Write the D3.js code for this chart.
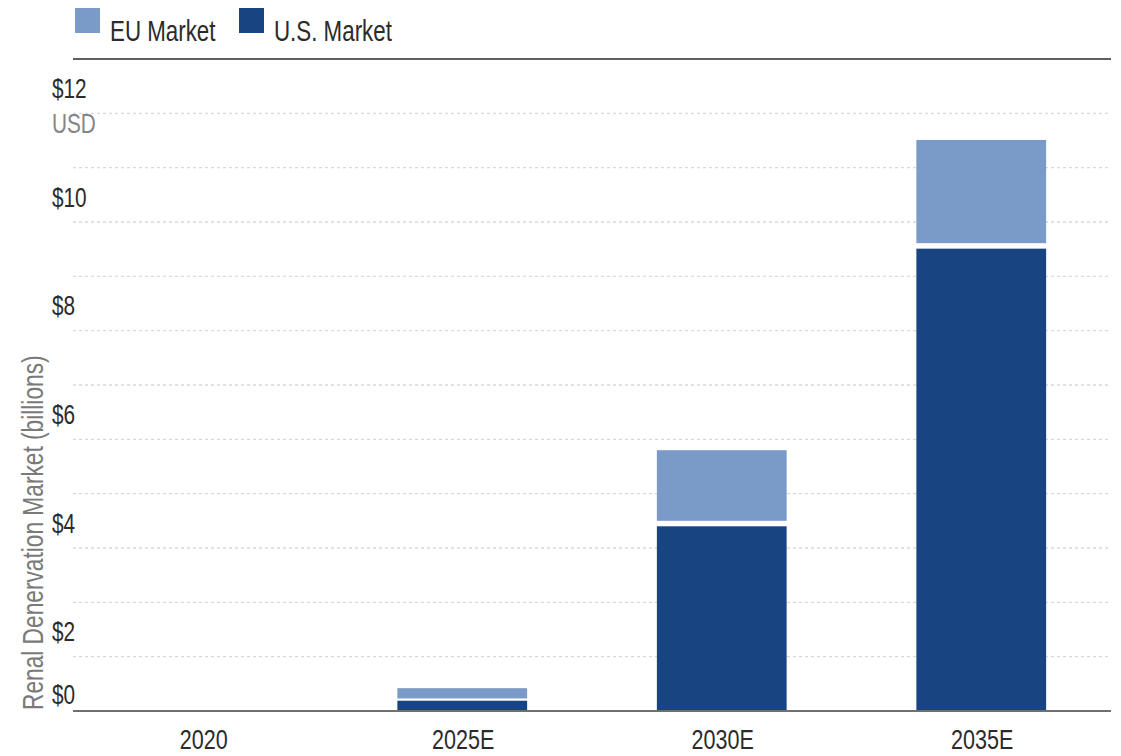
<!DOCTYPE html>
<html>
<head>
<meta charset="utf-8">
<script src="https://cdn.jsdelivr.net/npm/d3@7"></script>
<style>
  html, body { margin: 0; padding: 0; background: #fff; }
  svg { display: block; }
  text { font-family: "Liberation Sans", Arial, sans-serif; }
</style>
</head>
<body>
<svg id="chart" width="1121" height="756"></svg>
<script>
// Renal denervation market size, USD billions
const categories = ["2020", "2025E", "2030E", "2035E"];
const usMarket = [0, 0.21, 3.45, 8.56];
const euMarket = [0, 0.21, 1.35, 1.95];
const yTicks = [0, 2, 4, 6, 8, 10, 12];
const seriesNames = ["EU Market", "U.S. Market"];
const seriesColors = ["#7a9ac8", "#184482"];

const svg = d3.select("#chart");
const margin = { left: 73, right: 10, top: 59, bottom: 45 };
const W = 1121, H = 756;
const plotBottom = H - margin.bottom; // 711
const NARROW = 0.77; // horizontal squeeze for a condensed look

// place a condensed text at (px, py), optionally rotated
function narrowText(sel, px, py, rot) {
  return sel.attr("transform", d => {
    const X = typeof px === "function" ? px(d) : px;
    const Y = typeof py === "function" ? py(d) : py;
    return `translate(${X},${Y})` + (rot ? ` rotate(${rot})` : "") + ` scale(${NARROW},1)`;
  });
}

const x = d3.scaleBand()
  .domain(categories)
  .range([margin.left, W - margin.right])
  .paddingInner(0.5)
  .paddingOuter(0.25);

const y = d3.scaleLinear()
  .domain([0, 12])
  .range([plotBottom, margin.top]);

// dotted gridlines at every billion
const gridVals = d3.range(1, 12);
svg.append("g")
  .selectAll("line")
  .data(gridVals)
  .join("line")
  .attr("x1", margin.left)
  .attr("x2", W - margin.right)
  .attr("y1", d => y(d))
  .attr("y2", d => y(d))
  .attr("stroke", "#d9d9d9")
  .attr("stroke-width", 1.3)
  .attr("stroke-dasharray", "3,3");

// top rule under the legend
svg.append("line")
  .attr("x1", margin.left).attr("x2", W - margin.right)
  .attr("y1", y(12)).attr("y2", y(12))
  .attr("stroke", "#5f5f5f").attr("stroke-width", 2);

// stacked bars: U.S. at the bottom, EU on top, with a small white gap
const rows = categories.map((c, i) => ({ cat: c, us: usMarket[i], eu: euMarket[i] }));
const stack = d3.stack().keys(["us", "eu"])(rows);

const gapFor = (d) => {
  const hUs = y(0) - y(d.data.us);
  const hEu = y(0) - y(d.data.eu);
  return Math.min(5.5, 0.2 * Math.min(hUs, hEu));
};

const bars = svg.append("g");
stack.forEach((layer, li) => {
  bars.append("g")
    .attr("fill", li === 0 ? seriesColors[1] : seriesColors[0])
    .selectAll("rect")
    .data(layer.filter(d => d[1] - d[0] > 0))
    .join("rect")
    .attr("x", d => x(d.data.cat))
    .attr("width", x.bandwidth())
    .attr("y", d => {
      const g = gapFor(d);
      return li === 0 ? y(d[1]) + g / 2 : y(d[1]);
    })
    .attr("height", d => {
      const g = gapFor(d);
      return y(d[0]) - y(d[1]) - g / 2;
    });
});

// baseline
svg.append("line")
  .attr("x1", margin.left).attr("x2", W - margin.right)
  .attr("y1", y(0)).attr("y2", y(0))
  .attr("stroke", "#6f6f6f").attr("stroke-width", 2);

// y tick labels hang below their gridlines; $0 sits above the baseline
narrowText(
  svg.append("g").selectAll("text").data(yTicks).join("text"),
  52,
  d => d === 0 ? y(0) - 7 : y(d) + 39
)
  .attr("font-size", 27)
  .attr("fill", "#2b2b2b")
  .text(d => "$" + d);

narrowText(svg.append("text"), 52, y(12) + 74)
  .attr("font-size", 27)
  .attr("fill", "#858585")
  .text("USD");

// axis title
narrowText(svg.append("text"), 43, y(0) - 1, -90)
  .attr("font-size", 29.5)
  .attr("fill", "#7a7a7a")
  .text("Renal Denervation Market (billions)");

// category labels
narrowText(
  svg.append("g").selectAll("text").data(categories).join("text"),
  d => x(d) + x.bandwidth() / 2 + 1,
  y(0) + 38
)
  .attr("text-anchor", "middle")
  .attr("font-size", 28)
  .attr("fill", "#2b2b2b")
  .text(d => d);

// legend
const legend = svg.append("g");
const legendX = [75, 239];
seriesNames.forEach((name, i) => {
  legend.append("rect")
    .attr("x", legendX[i]).attr("y", 8)
    .attr("width", 25).attr("height", 25)
    .attr("fill", seriesColors[i]);
  narrowText(legend.append("text"), legendX[i] + 35, 41)
    .attr("font-size", 29)
    .attr("fill", "#2b2b2b")
    .text(name);
});
</script>
</body>
</html>
